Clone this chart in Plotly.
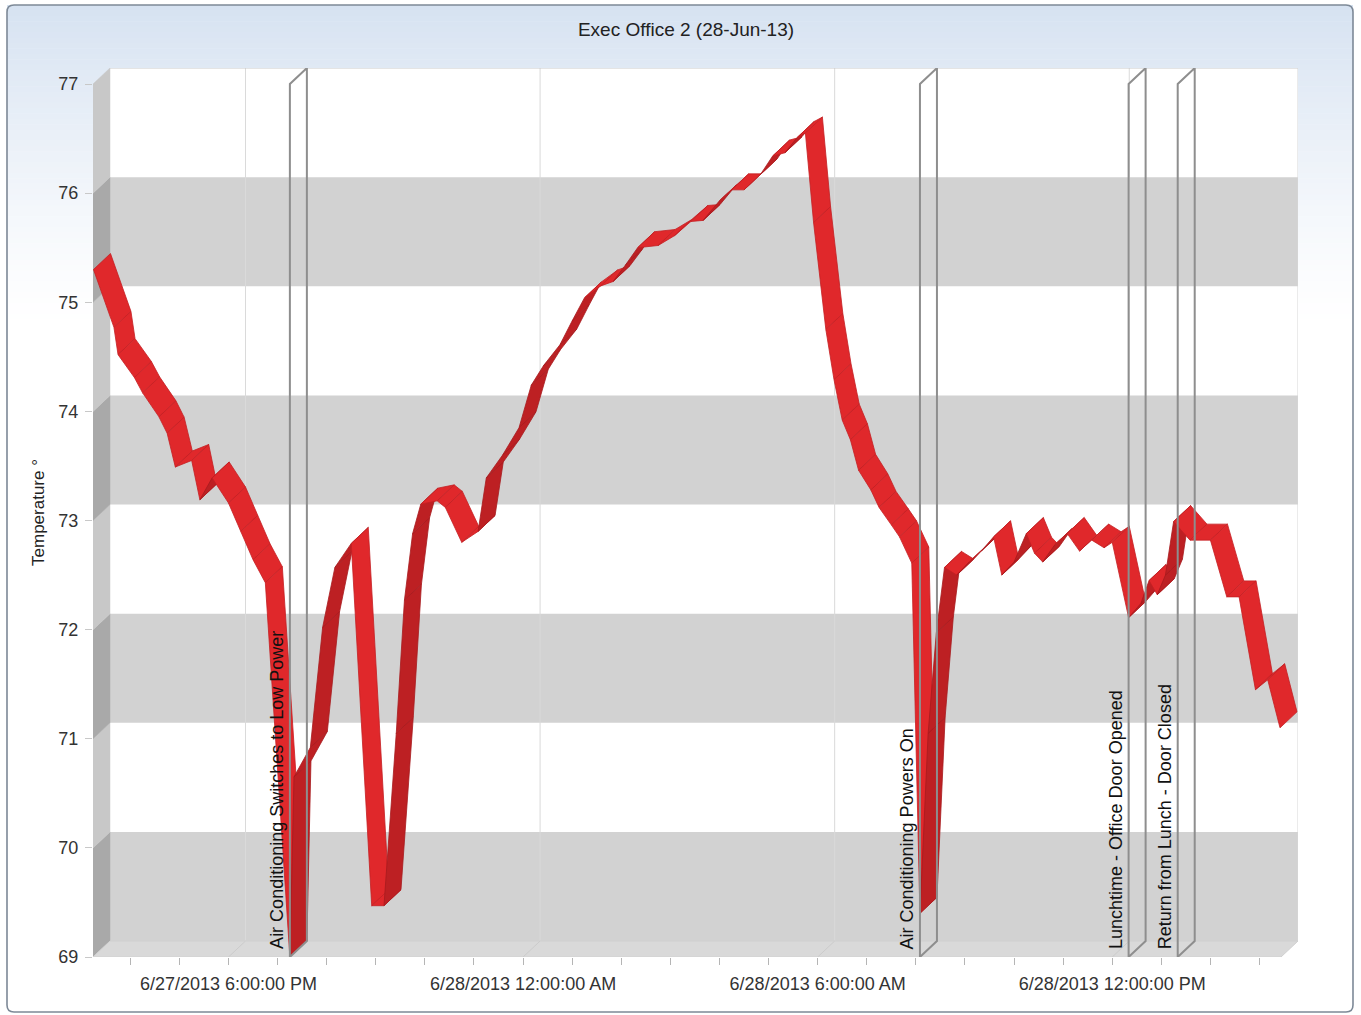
import pandas as pd
import plotly.graph_objects as go

# ---------------- data ----------------
times = [
    "2013-06-27 15:15", "2013-06-27 15:40", "2013-06-27 15:45", "2013-06-27 16:05",
    "2013-06-27 16:15", "2013-06-27 16:35", "2013-06-27 16:45", "2013-06-27 16:55",
    "2013-06-27 17:15", "2013-06-27 17:25", "2013-06-27 17:40", "2013-06-27 18:00",
    "2013-06-27 18:15", "2013-06-27 18:30", "2013-06-27 18:45", "2013-06-27 19:15",
    "2013-06-27 19:20", "2013-06-27 19:40", "2013-06-27 19:55", "2013-06-27 20:10",
    "2013-06-27 20:30", "2013-06-27 20:55", "2013-06-27 21:10", "2013-06-27 21:25",
    "2013-06-27 21:35", "2013-06-27 21:45", "2013-06-27 21:55", "2013-06-27 22:15",
    "2013-06-27 22:25", "2013-06-27 22:45", "2013-06-27 23:05", "2013-06-27 23:15",
    "2013-06-27 23:35", "2013-06-27 23:55", "2013-06-28 00:10", "2013-06-28 00:25",
    "2013-06-28 00:45", "2013-06-28 01:00", "2013-06-28 01:15", "2013-06-28 01:35",
    "2013-06-28 01:50", "2013-06-28 02:05", "2013-06-28 02:20", "2013-06-28 02:45",
    "2013-06-28 03:05", "2013-06-28 03:25", "2013-06-28 03:40", "2013-06-28 04:00",
    "2013-06-28 04:15", "2013-06-28 04:30", "2013-06-28 04:50", "2013-06-28 05:05",
    "2013-06-28 05:20", "2013-06-28 05:35", "2013-06-28 05:45", "2013-06-28 05:55",
    "2013-06-28 06:10", "2013-06-28 06:20", "2013-06-28 06:30", "2013-06-28 06:40",
    "2013-06-28 06:50", "2013-06-28 07:05", "2013-06-28 07:15", "2013-06-28 07:30",
    "2013-06-28 07:40", "2013-06-28 07:55", "2013-06-28 08:05", "2013-06-28 08:15",
    "2013-06-28 08:25", "2013-06-28 08:35", "2013-06-28 08:50", "2013-06-28 09:05",
    "2013-06-28 09:20", "2013-06-28 09:35", "2013-06-28 09:45", "2013-06-28 10:00",
    "2013-06-28 10:15", "2013-06-28 10:25", "2013-06-28 10:35", "2013-06-28 10:50",
    "2013-06-28 11:05", "2013-06-28 11:20", "2013-06-28 11:35", "2013-06-28 11:50",
    "2013-06-28 12:00", "2013-06-28 12:20", "2013-06-28 12:35", "2013-06-28 12:45",
    "2013-06-28 12:55", "2013-06-28 13:05", "2013-06-28 13:15", "2013-06-28 13:35",
    "2013-06-28 14:00", "2013-06-28 14:20", "2013-06-28 14:35", "2013-06-28 14:55",
    "2013-06-28 15:10", "2013-06-28 15:25",
]
temps = [
    75.30, 74.77, 74.52, 74.31,
    74.17, 73.95, 73.80, 73.49,
    73.55, 73.19, 73.39, 73.16,
    72.90, 72.64, 72.43, 69.00,
    70.65, 70.92, 72.02, 72.57,
    72.79, 69.47, 69.47, 71.05,
    72.27, 72.88, 73.15, 73.18,
    73.12, 72.80, 72.90, 73.39,
    73.60, 73.85, 74.24, 74.42,
    74.61, 74.83, 75.04, 75.15,
    75.19, 75.34, 75.50, 75.52,
    75.61, 75.74, 75.75, 75.93,
    76.03, 76.03, 76.17, 76.34,
    76.37, 76.51, 76.55, 75.73,
    74.75, 74.29, 73.92, 73.74,
    73.46, 73.28, 73.12, 72.96,
    72.85, 72.61, 69.40, 71.05,
    71.97, 72.57, 72.50, 72.62,
    72.72, 72.85, 72.50, 72.62,
    72.88, 72.70, 72.62, 72.78,
    72.88, 72.72, 72.82, 72.75,
    72.80, 72.11, 72.24, 72.45,
    72.32, 72.50, 72.99, 72.82,
    72.82, 72.30, 72.30, 71.45,
    71.54, 71.10,
]

event_times = ["2013-06-27 19:15", "2013-06-28 08:05", "2013-06-28 12:20", "2013-06-28 13:20"]
event_labels = [
    "Air Conditioning Switches to Low Power",
    "Air Conditioning Powers On",
    "Lunchtime - Office Door Opened",
    "Return from Lunch - Door Closed",
]

band_lows = [69, 71, 73, 75]          # shaded one-degree stripes on the back wall
y_tick_vals = [69, 70, 71, 72, 73, 74, 75, 76, 77]
major_tick_vals = ["2013-06-27 18:00", "2013-06-28 00:00", "2013-06-28 06:00", "2013-06-28 12:00"]
major_tick_text = ["6/27/2013 6:00:00 PM", "6/28/2013 12:00:00 AM",
                   "6/28/2013 6:00:00 AM", "6/28/2013 12:00:00 PM"]

chart_title = "Exec Office 2 (28-Jun-13)"
y_title = "Temperature °"

# ---------------- layout geometry ----------------
FIG_W, FIG_H = 1361, 1015
M_L, M_R, M_T, M_B = 93, 63, 68, 58
PLOT_W = FIG_W - M_L - M_R
PLOT_H = FIG_H - M_T - M_B
DEPTH_PX = (17, 16)                   # pseudo-3D depth offset (right, up)

X0 = pd.Timestamp("2013-06-27 15:14:24")
X1 = pd.Timestamp("2013-06-28 15:47:00")
Y0, Y_TOP_FRONT = 69.0, 77.0
PX_PER_DEG = (PLOT_H - DEPTH_PX[1]) / (Y_TOP_FRONT - Y0)
DV = DEPTH_PX[1] / PX_PER_DEG
Y1 = Y_TOP_FRONT + DV
PX_PER_MIN = PLOT_W / ((X1 - X0).total_seconds() / 60.0)
DT = pd.Timedelta(minutes=DEPTH_PX[0] / PX_PER_MIN)

FONT = "Liberation Sans, Arial, sans-serif"

ts = [pd.Timestamp(t) for t in times]
vs = list(temps)

fig = go.Figure()


def poly(xs, ys, fill, line_color=None, line_width=0.0):
    fig.add_trace(go.Scatter(
        x=xs, y=ys, mode="lines", fill="toself", fillcolor=fill,
        line=dict(color=line_color or fill, width=line_width),
        hoverinfo="skip", showlegend=False))


def seg(xs, ys, color, width):
    fig.add_trace(go.Scatter(
        x=xs, y=ys, mode="lines", line=dict(color=color, width=width),
        hoverinfo="skip", showlegend=False))


# back wall
poly([X0 + DT, X1, X1, X0 + DT, X0 + DT], [Y0 + DV, Y0 + DV, Y1, Y1, Y0 + DV], "#ffffff")
for lo in band_lows:
    poly([X0 + DT, X1, X1, X0 + DT, X0 + DT],
         [lo + DV, lo + DV, lo + 1 + DV, lo + 1 + DV, lo + DV], "#d2d2d2")
# back wall vertical grid lines
for t in major_tick_vals:
    tb = pd.Timestamp(t) + DT
    seg([tb, tb], [Y0 + DV, Y1], "#dadada", 1)
seg([X0 + DT, X1], [Y1, Y1], "#c9c9c9", 1)
seg([X1, X1], [Y0 + DV, Y1], "#d6d6d6", 1)

# left side wall, shaded to follow the stripes
for lo in range(int(Y0), int(Y_TOP_FRONT)):
    col = "#a9a9a9" if lo in band_lows else "#c8c8c8"
    poly([X0, X0, X0 + DT, X0 + DT, X0], [lo, lo + 1, lo + 1 + DV, lo + DV, lo], col, col, 0.5)

# floor
poly([X0, X1 - DT, X1, X0 + DT, X0], [Y0, Y0, Y0 + DV, Y0 + DV, Y0], "#d9d9d9", "#d0d0d0", 1)
for t in major_tick_vals:
    tf = pd.Timestamp(t)
    seg([tf, tf + DT], [Y0, Y0 + DV], "#cbcbcb", 1)

# temperature ribbon: one face per segment, shaded by which side faces the viewer
for i in range(len(ts) - 1):
    ta, tb = ts[i], ts[i + 1]
    va, vb = vs[i], vs[i + 1]
    sx = (tb - ta).total_seconds() / 60.0 * PX_PER_MIN
    sy = -(vb - va) * PX_PER_DEG
    cross = -DEPTH_PX[1] * sx - DEPTH_PX[0] * sy
    if cross > 0:
        face, edge = "#bd2023", "#a71b1e"
    else:
        face, edge = "#e0282b", "#c42023"
    poly([ta, tb, tb + DT, ta + DT, ta], [va, vb, vb + DV, va + DV, va], face, edge, 0.8)

# event markers: thin vertical slabs through the depth of the chart
for t in event_times:
    tf = pd.Timestamp(t)
    seg([tf, tf, tf + DT, tf + DT, tf], [Y0, Y_TOP_FRONT, Y1, Y0 + DV, Y0], "#8e8e8e", 2)

annotations = []
for t, lab in zip(event_times, event_labels):
    annotations.append(dict(
        x=pd.Timestamp(t), y=Y0, xref="x", yref="y", text=lab, textangle=-90,
        xanchor="right", yanchor="bottom", xshift=-1, yshift=6, showarrow=False,
        font=dict(family=FONT, size=18, color="#111111")))

# hourly ticks along the front edge, labelled every six hours
hour_ticks = pd.date_range("2013-06-27 16:00", "2013-06-28 15:00", freq="h")
label_map = {pd.Timestamp(v): s for v, s in zip(major_tick_vals, major_tick_text)}
tick_text = [label_map.get(h, "") for h in hour_ticks]


# panel background: soft blue gradient fading to white, rounded border
def px_to_paper(px, py):
    return (px - M_L) / PLOT_W, (FIG_H - M_B - py) / PLOT_H


shapes = []
PANEL = (7, 5, 1353, 1012)
top_rgb = (214, 226, 241)
n_steps = 60
g_top, g_bot = PANEL[1], 330
for k in range(n_steps):
    y_a = g_top + (g_bot - g_top) * k / n_steps
    y_b = g_top + (g_bot - g_top) * (k + 1) / n_steps + 0.5
    f = (k + 0.5) / n_steps
    w = (1 - f) ** 1.3
    c = tuple(round(255 - (255 - ch) * w) for ch in top_rgb)
    xa, ya = px_to_paper(PANEL[0], y_a)
    xb, yb = px_to_paper(PANEL[2], y_b)
    shapes.append(dict(type="rect", xref="paper", yref="paper", x0=xa, x1=xb, y0=yb, y1=ya,
                       fillcolor="rgb(%d,%d,%d)" % c, line=dict(width=0), layer="below"))

r = 7
x_l, y_t, x_r, y_b = PANEL
pts = [("M", (x_l + r, y_t)), ("L", (x_r - r, y_t)), ("Q", (x_r, y_t), (x_r, y_t + r)),
       ("L", (x_r, y_b - r)), ("Q", (x_r, y_b), (x_r - r, y_b)), ("L", (x_l + r, y_b)),
       ("Q", (x_l, y_b), (x_l, y_b - r)), ("L", (x_l, y_t + r)), ("Q", (x_l, y_t), (x_l + r, y_t))]
path = ""
for cmd, *ps in pts:
    path += cmd + " ".join("%.5f,%.5f" % px_to_paper(*p) for p in ps) + " "
path += "Z"
shapes.append(dict(type="path", xref="paper", yref="paper", path=path,
                   line=dict(color="#7d8997", width=1.6), layer="above"))

fig.update_layout(
    width=FIG_W, height=FIG_H,
    margin=dict(l=M_L, r=M_R, t=M_T, b=M_B, pad=0),
    paper_bgcolor="#ffffff", plot_bgcolor="rgba(0,0,0,0)",
    showlegend=False,
    font=dict(family=FONT, color="#333333"),
    title=dict(text=chart_title, x=686 / FIG_W, xref="container", xanchor="center",
               y=1 - 29 / FIG_H, yref="container", yanchor="middle",
               font=dict(family=FONT, size=19, color="#222222")),
    xaxis=dict(type="date", range=[X0, X1], showgrid=False, zeroline=False, showline=False,
               tickmode="array", tickvals=list(hour_ticks), ticktext=tick_text,
               ticks="outside", ticklen=7, tickwidth=1, tickcolor="#b5b5b5",
               tickfont=dict(family=FONT, size=18, color="#333333"),
               ticklabelstandoff=3, fixedrange=True),
    yaxis=dict(range=[Y0, Y1], showgrid=False, zeroline=False, showline=False,
               tickmode="array", tickvals=y_tick_vals, ticktext=[str(v) for v in y_tick_vals],
               ticks="outside", ticklen=7, tickwidth=1, tickcolor="#c8c8c8",
               tickfont=dict(family=FONT, size=18, color="#333333"),
               ticklabelstandoff=3,
               title=dict(text=y_title, standoff=9, font=dict(family=FONT, size=17, color="#222222")),
               fixedrange=True),
    shapes=shapes,
    annotations=annotations,
)

fig.write_html("out.html")
